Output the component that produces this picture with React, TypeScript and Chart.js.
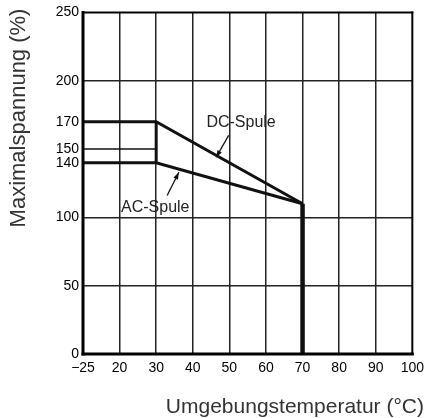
import React, { useEffect, useRef } from "react";
import { Chart, registerables } from "chart.js";

Chart.register(...registerables);

// Axis categories (temperature ticks are equally spaced positions)
const xTickTemps = [-25, 20, 30, 40, 50, 60, 70, 80, 90, 100];
const xTickLabels = ["−25", "20", "30", "40", "50", "60", "70", "80", "90", "100"];
const yTickValues = [0, 50, 100, 140, 150, 170, 200, 250];
const yGridValues = [50, 100, 200];

// Series
const dcTemps = [-25, 30, 70];
const dcValues = [170, 170, 110];
const acTemps = [-25, 30, 70];
const acValues = [140, 140, 110];
const joinTemps = [30, 30];
const joinValues = [140, 170];
const cutoffTemps = [70, 70];
const cutoffValues = [110, 0];
const ratedTemps = [-25, 30];
const ratedValues = [150, 150];

const xTitle = "Umgebungstemperatur (°C)";
const yTitle = "Maximalspannung (%)";
const dcLabel = "DC-Spule";
const acLabel = "AC-Spule";

const pos = (t: number) => xTickTemps.indexOf(t);
const pts = (ts: number[], vs: number[]) => ts.map((t, i) => ({ x: pos(t), y: vs[i] }));

const FONT = "'Liberation Sans', Arial, sans-serif";

const overlayPlugin = {
  id: "overlay",
  afterDatasetsDraw(chart: any) {
    const { ctx, chartArea: a, scales } = chart;
    const xs = scales.x, ys = scales.y;
    ctx.save();
    // frame
    ctx.strokeStyle = "#000";
    ctx.lineCap = "square";
    const line = (x1: number, y1: number, x2: number, y2: number, w: number) => {
      ctx.lineWidth = w;
      ctx.beginPath();
      ctx.moveTo(x1, y1);
      ctx.lineTo(x2, y2);
      ctx.stroke();
    };
    line(a.left, a.top, a.right, a.top, 2);
    line(a.right, a.top, a.right, a.bottom, 2);
    line(a.left, a.top, a.left, a.bottom, 3);
    line(a.left, a.bottom, a.right, a.bottom, 3);

    // annotation labels
    ctx.fillStyle = "#222";
    ctx.font = `16px ${FONT}`;
    ctx.textAlign = "center";
    ctx.textBaseline = "alphabetic";
    ctx.fillText(dcLabel, xs.getPixelForValue(4.32), ys.getPixelForValue(166));
    ctx.fillText(acLabel, xs.getPixelForValue(1.975), ys.getPixelForValue(104));

    // arrows
    const arrow = (fx: number, fy: number, tx: number, ty: number) => {
      const x1 = xs.getPixelForValue(fx), y1 = ys.getPixelForValue(fy);
      const x2 = xs.getPixelForValue(tx), y2 = ys.getPixelForValue(ty);
      ctx.strokeStyle = "#111";
      ctx.lineWidth = 1.3;
      ctx.lineCap = "butt";
      ctx.beginPath();
      ctx.moveTo(x1, y1);
      ctx.lineTo(x2, y2);
      ctx.stroke();
      const ang = Math.atan2(y2 - y1, x2 - x1);
      const len = 7, wid = 2.5;
      ctx.fillStyle = "#111";
      ctx.beginPath();
      ctx.moveTo(x2, y2);
      ctx.lineTo(x2 - len * Math.cos(ang) + wid * Math.sin(ang), y2 - len * Math.sin(ang) - wid * Math.cos(ang));
      ctx.lineTo(x2 - len * Math.cos(ang) - wid * Math.sin(ang), y2 - len * Math.sin(ang) + wid * Math.cos(ang));
      ctx.closePath();
      ctx.fill();
    };
    arrow(3.98, 160, 3.64, 144);
    arrow(2.3, 116, 2.62, 133);

    // axis titles
    ctx.fillStyle = "#333";
    ctx.font = `21px ${FONT}`;
    ctx.textAlign = "right";
    ctx.textBaseline = "alphabetic";
    ctx.fillText(xTitle, 424, 413);

    ctx.font = `22px ${FONT}`;
    ctx.translate(25, 118);
    ctx.rotate(-Math.PI / 2);
    ctx.textAlign = "center";
    ctx.fillText(yTitle, 0, 0);
    ctx.restore();
  },
};

export default function App() {
  const ref = useRef<HTMLCanvasElement | null>(null);
  useEffect(() => {
    if (!ref.current) return;
    const base = { pointRadius: 0, borderColor: "#111", showLine: true, fill: false, tension: 0, clip: false as any };
    const chart = new Chart(ref.current, {
      type: "line",
      data: {
        datasets: [
          { ...base, label: "rated", data: pts(ratedTemps, ratedValues), borderWidth: 1.5 },
          { ...base, label: "DC", data: pts(dcTemps, dcValues), borderWidth: 3 },
          { ...base, label: "AC", data: pts(acTemps, acValues), borderWidth: 3 },
          { ...base, label: "join", data: pts(joinTemps, joinValues), borderWidth: 3 },
          { ...base, label: "cutoff", data: pts(cutoffTemps, cutoffValues), borderWidth: 4.5 },
        ] as any,
      },
      options: {
        responsive: false,
        animation: false,
        layout: { padding: { top: 11, right: 3, left: 0, bottom: 0 } },
        plugins: { legend: { display: false }, tooltip: { enabled: false } },
        scales: {
          x: {
            type: "linear",
            min: 0,
            max: xTickTemps.length - 1,
            afterBuildTicks: (s: any) => {
              s.ticks = xTickTemps.map((_, i) => ({ value: i }));
            },
            afterFit: (s: any) => {
              s.height = 64;
            },
            ticks: {
              autoSkip: false,
              maxRotation: 0,
              padding: 6,
              color: "#000",
              font: { family: FONT, size: 14 },
              callback: (v: any) => xTickLabels[Math.round(v)] ?? "",
            },
            grid: {
              drawTicks: false,
              lineWidth: 1.5,
              color: (c: any) => (c.tick && c.tick.value > 0 && c.tick.value < xTickTemps.length - 1 ? "#222" : "rgba(0,0,0,0)"),
            },
            border: { display: false },
          },
          y: {
            type: "linear",
            min: 0,
            max: 250,
            afterBuildTicks: (s: any) => {
              s.ticks = yTickValues.map((v) => ({ value: v }));
            },
            afterFit: (s: any) => {
              s.width = 83;
            },
            ticks: {
              autoSkip: false,
              padding: 4,
              color: "#000",
              font: { family: FONT, size: 14 },
              callback: (v: any) => String(v),
            },
            grid: {
              drawTicks: false,
              lineWidth: 1.5,
              color: (c: any) => (c.tick && yGridValues.includes(c.tick.value) ? "#222" : "rgba(0,0,0,0)"),
            },
            border: { display: false },
          },
        },
      },
      plugins: [overlayPlugin],
    });
    return () => chart.destroy();
  }, []);
  return (
    <div style={{ position: "absolute", left: 0, top: 0, width: 430, height: 418, background: "#fff" }}>
      <canvas ref={ref} width={430} height={418} />
    </div>
  );
}
